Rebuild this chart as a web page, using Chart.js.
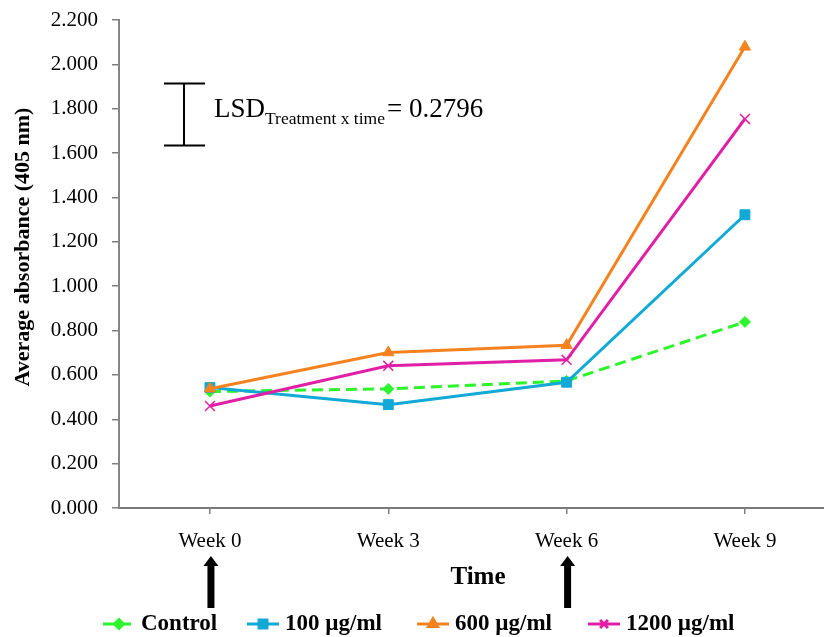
<!DOCTYPE html>
<html>
<head>
<meta charset="utf-8">
<script src="https://cdn.jsdelivr.net/npm/chart.js@4/dist/chart.umd.min.js"></script>
<style>
  html, body { margin: 0; background: #fff; overflow: hidden; }
  #caja { width: 824px; height: 637px; position: relative; }
  canvas { display: block; }
</style>
</head>
<body>
<div id="caja"><canvas id="grafica"></canvas></div>
<script>
// datos
const semanas = [0, 3, 6, 9];
const etiquetasSemana = ["Week 0", "Week 3", "Week 6", "Week 9"];
const control = [0.525, 0.537, 0.573, 0.839];
const dosis100 = [0.543, 0.466, 0.567, 1.322];
const dosis600 = [0.538, 0.701, 0.734, 2.079];
const dosis1200 = [0.460, 0.641, 0.668, 1.754];
const nombresSeries = ["Control", "100 µg/ml", "600 µg/ml", "1200 µg/ml"];
const lsd = 0.2796;
const lsdBase = 1.634;
const semanasFlecha = [0, 6];

const fuente = "'Liberation Serif', 'Times New Roman', serif";
Chart.defaults.font.family = fuente;
Chart.defaults.color = "#000";

// anotaciones: titulos, LSD, flechas y leyenda
const extras = {
  id: "extras",
  afterDraw(chart) {
    const ctx = chart.ctx;
    const x = chart.scales.x;
    const y = chart.scales.y;
    ctx.save();
    ctx.fillStyle = "#000";
    ctx.strokeStyle = "#000";

    // titulo eje y
    ctx.save();
    ctx.translate(23, 247);
    ctx.rotate(-Math.PI / 2);
    ctx.font = "bold 22px " + fuente;
    ctx.textAlign = "center";
    ctx.textBaseline = "middle";
    ctx.fillText("Average absorbance (405 nm)", 0, 0);
    ctx.restore();

    // titulo eje x
    ctx.font = "bold 25px " + fuente;
    ctx.textAlign = "center";
    ctx.textBaseline = "middle";
    ctx.fillText("Time", 478, 578);

    // barra LSD
    const yTop = y.getPixelForValue(lsdBase + lsd);
    const yBot = y.getPixelForValue(lsdBase);
    ctx.lineWidth = 2;
    ctx.beginPath();
    ctx.moveTo(184, yTop); ctx.lineTo(184, yBot);
    ctx.moveTo(164, yTop); ctx.lineTo(205, yTop);
    ctx.moveTo(164, yBot); ctx.lineTo(205, yBot);
    ctx.stroke();

    ctx.textAlign = "left";
    ctx.textBaseline = "alphabetic";
    ctx.font = "27px " + fuente;
    let px = 214;
    ctx.fillText("LSD", px, 117);
    px += ctx.measureText("LSD").width;
    ctx.font = "17.5px " + fuente;
    ctx.fillText("Treatment x time", px, 124);
    px += ctx.measureText("Treatment x time").width + 2;
    ctx.font = "27px " + fuente;
    ctx.fillText("= " + lsd, px, 117);

    // flechas
    semanasFlecha.forEach((s) => {
      const ax = x.getPixelForValue(s) + 1;
      ctx.fillRect(ax - 3.5, 564, 7, 44);
      ctx.beginPath();
      ctx.moveTo(ax, 556);
      ctx.lineTo(ax + 7.5, 566);
      ctx.lineTo(ax - 7.5, 566);
      ctx.closePath();
      ctx.fill();
    });

    // leyenda
    const inicios = [103, 247, 417, 588];
    ctx.font = "bold 23px " + fuente;
    ctx.textBaseline = "middle";
    chart.data.datasets.forEach((ds, i) => {
      const lx = inicios[i];
      const ly = 624;
      ctx.save();
      ctx.strokeStyle = ds.borderColor;
      ctx.lineWidth = 3;
      ctx.setLineDash(ds.borderDash || []);
      ctx.beginPath();
      ctx.moveTo(lx, ly);
      ctx.lineTo(lx + 32, ly);
      ctx.stroke();
      ctx.setLineDash([]);
      ctx.fillStyle = ds.pointBackgroundColor;
      ctx.strokeStyle = ds.pointBorderColor;
      Chart.helpers.drawPoint(ctx, {
        pointStyle: ds.pointStyle,
        radius: ds.pointRadius * 0.8,
        rotation: 0,
        borderWidth: ds.pointBorderWidth,
      }, lx + 16, ly);
      ctx.restore();
      ctx.fillStyle = "#000";
      ctx.fillText(nombresSeries[i], lx + 38, ly);
    });
    ctx.restore();
  },
};

function serie(nombre, datos, color, estilo, radio, orden, guiones) {
  return {
    label: nombre,
    data: datos,
    borderColor: color,
    backgroundColor: color,
    borderWidth: 3,
    borderDash: guiones,
    pointStyle: estilo,
    pointRadius: radio,
    pointBackgroundColor: color,
    pointBorderColor: color,
    pointBorderWidth: estilo === "crossRot" ? 1.5 : 1,
    tension: 0,
    order: orden,
  };
}

new Chart(document.getElementById("grafica"), {
  type: "line",
  data: {
    labels: semanas,
    datasets: [
      serie(nombresSeries[0], control, "#2cf52c", "rectRot", 5.5, 4, [11, 6]),
      serie(nombresSeries[1], dosis100, "#11a9d5", "rect", 7, 3, []),
      serie(nombresSeries[2], dosis600, "#f5821f", "triangle", 6.5, 2, []),
      serie(nombresSeries[3], dosis1200, "#e01ea6", "crossRot", 7, 1, []),
    ],
  },
  options: {
    responsive: true,
    maintainAspectRatio: false,
    animation: false,
    layout: { autoPadding: false, padding: { top: 20, right: 0, left: 0, bottom: 0 } },
    plugins: { legend: { display: false }, tooltip: { enabled: false } },
    scales: {
      x: {
        type: "linear",
        min: -1.53,
        max: 10.33,
        afterBuildTicks: (escala) => {
          escala.ticks = semanas.map((v) => ({ value: v }));
        },
        afterFit: (escala) => {
          escala.height = 129;
          escala.paddingLeft = 0;
          escala.paddingRight = 0;
        },
        ticks: {
          font: { size: 21 },
          padding: 15,
          callback: (v) => etiquetasSemana[semanas.indexOf(v)],
        },
        grid: { drawOnChartArea: false, tickLength: 6, color: "#808080", lineWidth: 1.5 },
        border: { color: "#7a7a7a", width: 2 },
      },
      y: {
        min: 0,
        max: 2.2,
        ticks: {
          stepSize: 0.2,
          font: { size: 21 },
          padding: 14,
          callback: (v) => v.toFixed(3),
        },
        afterFit: (escala) => {
          escala.width = 119;
          escala.paddingTop = 0;
          escala.paddingBottom = 0;
        },
        grid: { drawOnChartArea: false, tickLength: 7, color: "#808080", lineWidth: 1.5 },
        border: { color: "#868686", width: 2 },
      },
    },
  },
  plugins: [extras],
});
</script>
</body>
</html>
